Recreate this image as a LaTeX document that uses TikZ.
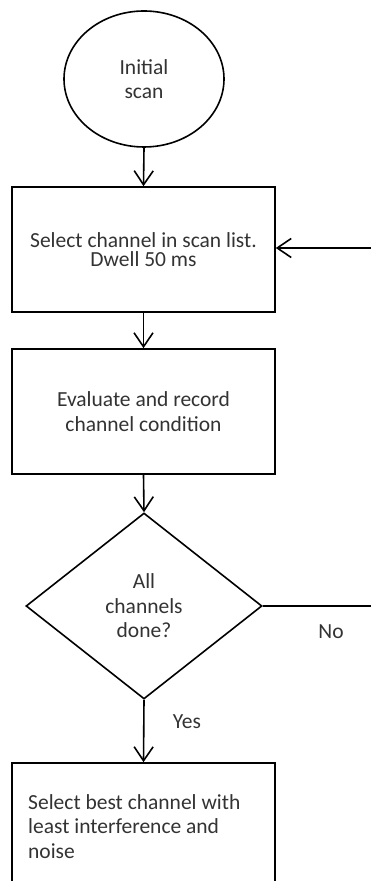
\documentclass[tikz,border=0pt]{standalone}
\usepackage{fontspec}
\setmainfont{Carlito}
\usetikzlibrary{arrows.meta,shapes.geometric}

\tikzset{
  flowline/.style={line width=1.6pt, draw=black},
  flowarrow/.style={flowline, -{Straight Barb[length=14pt,width=19pt,line width=1.6pt]}},
  txt/.style={text=black!80, font=\fontsize{21.5}{24.5}\selectfont, align=center},
  procbox/.style={draw=black, line width=1.6pt, fill=white, rectangle, inner sep=0pt,
    minimum width=263pt, txt},
  startell/.style={draw=black, line width=1.6pt, fill=white, ellipse, inner sep=0pt,
    minimum width=160pt, minimum height=136pt, txt},
  decision/.style={draw=black, line width=1.6pt, fill=white, diamond, inner sep=0pt,
    minimum width=236pt, minimum height=186pt, txt},
}

\begin{document}
\begin{tikzpicture}[x=1pt,y=1pt]
  \useasboundingbox (0,0) rectangle (371,881);
  \fill[white] (0,0) rectangle (371,881);

  % shapes of the flow
  \node[startell] (init) at (144,802) {Initial\\scan};
  \node[procbox, minimum height=125pt, font=\fontsize{21.5}{19.5}\selectfont]
    (select) at (143.5,631.5) {Select channel in scan list.\\Dwell 50 ms};
  \node[procbox, minimum height=125pt] (eval) at (143.5,469.5)
    {Evaluate and record\\channel condition};
  \node[decision] (done) at (144,275) {All\\channels\\done?};
  \node[procbox, minimum height=160pt] (best) at (143.5,38) {};
  % last line's baseline sets the position of this block
  \node[txt, align=left, anchor=base west, inner sep=0pt] (besttext) at (28,23)
    {Select best channel with\\least interference and\\noise};

  % loop-back ends at the right edge
  \coordinate (noend) at (372,275);
  \coordinate (backin) at (372,633);

  % connectors
  \draw[flowarrow] (init.south) -- (select.north);
  \draw[flowarrow] (select.south) -- (eval.north);
  \draw[flowarrow] (eval.south) -- (done.north);
  \draw[flowarrow] (done.south) -- (best.north);
  \node[txt, inner sep=0pt] (yes) at (187,159) {Yes};
  \draw[flowline] (done.east) -- (noend);
  \draw[flowarrow] (backin) -- (backin -| select.east);
  \node[txt, inner sep=0pt] (no) at (331,249) {No};
\end{tikzpicture}
\end{document}
